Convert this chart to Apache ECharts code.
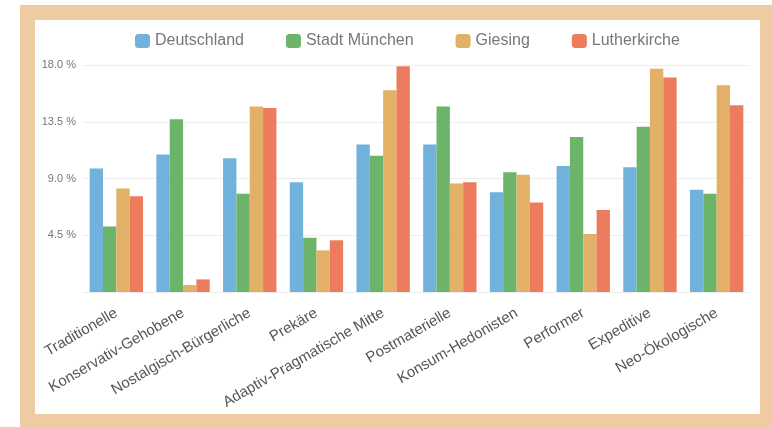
<!DOCTYPE html>
<html>
<head>
<meta charset="utf-8">
<script src="https://cdn.jsdelivr.net/npm/echarts@6/dist/echarts.min.js"></script>
<style>
html,body{margin:0;padding:0;background:#fff;width:772px;height:427px;overflow:hidden;}
#frame{position:absolute;left:20px;top:5px;width:752px;height:422px;background:#eecba3;}
#inner{position:absolute;left:35px;top:20px;width:725px;height:394px;background:#fff;}
#chart{position:absolute;left:0;top:0;width:772px;height:427px;}
</style>
</head>
<body>
<div id="frame"></div>
<div id="inner"></div>
<div id="chart"></div>
<script>
const categories = ["Traditionelle","Konservativ-Gehobene","Nostalgisch-Bürgerliche","Prekäre","Adaptiv-Pragmatische Mitte","Postmaterielle","Konsum-Hedonisten","Performer","Expeditive","Neo-Ökologische"];
const seriesNames = ["Deutschland","Stadt München","Giesing","Lutherkirche"];
const deutschland = [9.8, 10.9, 10.6, 8.7, 11.7, 11.7, 7.9, 10.0, 9.9, 8.1];
const muenchen = [5.2, 13.7, 7.8, 4.3, 10.8, 14.7, 9.5, 12.3, 13.1, 7.8];
const giesing = [8.2, 0.55, 14.7, 3.3, 16.0, 8.6, 9.3, 4.6, 17.7, 16.4];
const lutherkirche = [7.6, 1.0, 14.6, 4.1, 17.9, 8.7, 7.1, 6.5, 17.0, 14.8];
const yTicks = [0, 4.5, 9.0, 13.5, 18.0];
const colors = ["#70b2dc", "#6bb46a", "#e2b067", "#ed7c5f"];

const chart = echarts.init(document.getElementById('chart'), null, {renderer:'canvas'});
const values = [deutschland, muenchen, giesing, lutherkirche];
chart.setOption({
  backgroundColor: 'transparent',
  color: colors,
  animation: false,
  legend: {
    top: 28,
    left: 130,
    itemWidth: 15,
    itemHeight: 14,
    itemGap: 42,
    textStyle: {fontSize: 16, color: '#777', fontFamily: 'Liberation Sans, Arial, sans-serif'},
    data: seriesNames
  },
  grid: {left: 83, right: 22, top: 65, bottom: 135},
  xAxis: {
    type: 'category',
    data: categories,
    axisLine: {show: false},
    axisTick: {show: false},
    axisLabel: {rotate: 30, fontSize: 15, color: '#555', margin: 20, interval: 0, fontFamily: 'Liberation Sans, Arial, sans-serif'}
  },
  yAxis: {
    type: 'value',
    min: yTicks[0],
    max: yTicks[yTicks.length-1],
    interval: 4.5,
    axisLine: {show: false},
    axisTick: {show: false},
    splitLine: {lineStyle: {color: '#eee'}},
    axisLabel: {
      fontSize: 11, color: '#777', margin: 7,
      fontFamily: 'Liberation Sans, Arial, sans-serif',
      formatter: v => v === 0 ? '' : v.toFixed(1) + ' %'
    }
  },
  series: seriesNames.map((n, i) => ({
    name: n,
    type: 'bar',
    data: values[i],
    barGap: '0%',
    barCategoryGap: '20%'
  }))
});
</script>
</body>
</html>
